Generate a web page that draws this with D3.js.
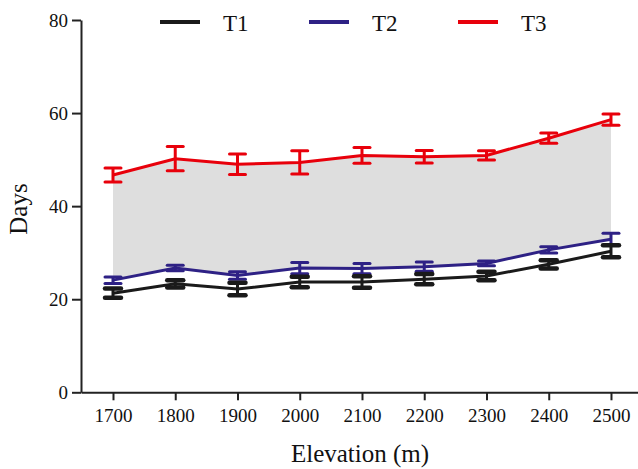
<!DOCTYPE html>
<html lang="en">
<head>
    <meta charset="UTF-8">
    <title>Days by elevation</title>
    <style>
        body {
            margin: 0;
            background: #fff;
        }

        #chart-wrapper {
            width: 638px;
            height: 469px;
        }

        text {
            font-family: "Liberation Serif", "Times New Roman", serif;
            fill: #111;
        }
    </style>
</head>

<body>
    <div id="chart-wrapper"></div>

    <script src="https://d3js.org/d3.v7.min.js"></script>
    <script>
        // values
        const elevations = [1700, 1800, 1900, 2000, 2100, 2200, 2300, 2400, 2500]
        const t1Mean = [21.3, 23.3, 22.2, 23.7, 23.7, 24.3, 25.0, 27.5, 30.3]
        const t1Err = [1.0, 0.8, 1.35, 1.15, 1.25, 1.1, 0.9, 0.9, 1.3]
        const t2Mean = [24.1, 26.7, 25.1, 26.7, 26.6, 27.0, 27.7, 30.6, 32.9]
        const t2Err = [0.7, 0.6, 0.8, 1.2, 1.1, 1.0, 0.5, 0.65, 1.3]
        const t3Mean = [46.7, 50.2, 49.0, 49.4, 50.9, 50.6, 50.9, 54.6, 58.6]
        const t3Err = [1.5, 2.6, 2.2, 2.5, 1.7, 1.35, 1.0, 1.1, 1.2]
        const yTicks = [0, 20, 40, 60, 80]
        const seriesNames = ['T1', 'T2', 'T3']

        const width = 638
        const height = 469
        const colors = {
            T1: '#1a1a1a',
            T2: '#2e2185',
            T3: '#e8000b'
        }

        const svg = d3.select('#chart-wrapper')
            .append('svg')
            .attr('width', width)
            .attr('height', height)

        const xScale = d3.scaleLinear()
            .domain([1648.6, 2543.4])
            .range([81, 638])

        const yScale = d3.scaleLinear()
            .domain([0, 80])
            .range([392.3, 20])

        const series = [
            { name: 'T3', mean: t3Mean, err: t3Err, cap: 3 },
            { name: 'T2', mean: t2Mean, err: t2Err, cap: 3 },
            { name: 'T1', mean: t1Mean, err: t1Err, cap: 4.5 }
        ].map(s => ({
            ...s,
            points: elevations.map((e, i) => ({ x: e, y: s.mean[i], err: s.err[i] }))
        }))

        drawBand()
        drawAxis()
        series.forEach(drawSeries)
        drawLegend()

        function drawBand() {
            const band = elevations.map((e, i) => ({ x: e, lo: t2Mean[i], hi: t3Mean[i] }))
            const area = d3.area()
                .x(d => xScale(d.x))
                .y0(d => yScale(d.lo))
                .y1(d => yScale(d.hi))

            svg.append('path')
                .datum(band)
                .attr('fill', '#dedede')
                .attr('d', area)
        }

        function drawAxis() {
            const xAxis = d3.axisBottom(xScale)
                .tickValues(elevations)
                .tickFormat(d3.format('d'))
                .tickSizeInner(8)
                .tickSizeOuter(0)
                .tickPadding(8)
            const yAxis = d3.axisLeft(yScale)
                .tickValues(yTicks)
                .tickSizeInner(9)
                .tickSizeOuter(0)
                .tickPadding(4)

            const gx = svg.append('g')
                .attr('transform', `translate(0, ${yScale(0)})`)
                .call(xAxis)
            const gy = svg.append('g')
                .attr('transform', `translate(81, 0)`)
                .call(yAxis)

            ;[gx, gy].forEach(g => {
                g.selectAll('path, line')
                    .attr('stroke', '#222')
                    .attr('stroke-width', 2)
                g.selectAll('text')
                    .attr('font-size', 19)
                    .attr('font-family', '"Liberation Serif", serif')
                    .attr('fill', '#111')
            })

            svg.append('text')
                .attr('x', 360)
                .attr('y', 462)
                .attr('text-anchor', 'middle')
                .attr('font-size', 25)
                .text('Elevation (m)')

            svg.append('text')
                .attr('transform', 'translate(27, 209) rotate(-90)')
                .attr('text-anchor', 'middle')
                .attr('font-size', 25)
                .text('Days')
        }

        function drawSeries(s) {
            const color = colors[s.name]
            const line = d3.line()
                .x(d => xScale(d.x))
                .y(d => yScale(d.y))

            const g = svg.append('g').attr('class', 'series-' + s.name)

            g.append('path')
                .datum(s.points)
                .attr('fill', 'none')
                .attr('stroke', color)
                .attr('stroke-width', 3)
                .attr('d', line)

            const bars = g.selectAll('.err')
                .data(s.points)
                .join('g')
                .attr('class', 'err')

            bars.append('line')
                .attr('x1', d => xScale(d.x))
                .attr('x2', d => xScale(d.x))
                .attr('y1', d => yScale(d.y - d.err))
                .attr('y2', d => yScale(d.y + d.err))
                .attr('stroke', color)
                .attr('stroke-width', 3)

            ;[-1, 1].forEach(sign => {
                bars.append('line')
                    .attr('x1', d => xScale(d.x) - 8)
                    .attr('x2', d => xScale(d.x) + 8)
                    .attr('y1', d => yScale(d.y + sign * d.err))
                    .attr('y2', d => yScale(d.y + sign * d.err))
                    .attr('stroke', color)
                    .attr('stroke-width', s.cap)
                    .attr('stroke-linecap', 'round')
            })
        }

        function drawLegend() {
            const legendX = d3.scalePoint()
                .domain(seriesNames)
                .range([160, 458])

            const items = svg.append('g')
                .selectAll('g')
                .data(seriesNames)
                .join('g')
                .attr('transform', d => `translate(${legendX(d)}, 22)`)

            items.append('line')
                .attr('x1', 0)
                .attr('x2', 40)
                .attr('stroke', d => colors[d])
                .attr('stroke-width', 4)

            items.append('text')
                .attr('x', 63)
                .attr('y', 9)
                .attr('font-size', 23)
                .text(d => d)
        }
    </script>
</body>
</html>
